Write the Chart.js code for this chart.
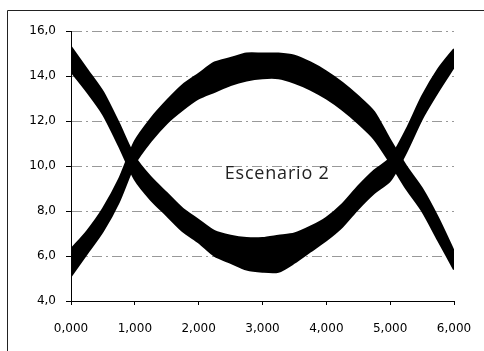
<!DOCTYPE html>
<html>
<head>
<meta charset="utf-8">
<script src="https://cdn.jsdelivr.net/npm/chart.js@4/dist/chart.umd.min.js"></script>
<style>
  html, body { margin: 0; padding: 0; background: #fff; }
  #wrap { width: 484px; height: 351px; position: relative; }
</style>
</head>
<body>
<div id="wrap"><canvas id="chart"></canvas></div>
<script>
// time axis (0,000 .. 6,000)
const xs = [0, 0.25, 0.5, 0.75, 1, 1.25, 1.5, 1.75, 2, 2.25, 2.5, 2.75, 3,
            3.25, 3.5, 3.75, 4, 4.25, 4.5, 4.75, 5, 5.25, 5.5, 5.75, 6];

// series falling then rising (upper / lower edge of the noisy band)
const fallHi = [15.3, 14.3, 13.3, 11.9, 10.4, 9.5, 8.8, 8.1, 7.6, 7.1, 6.9, 6.8, 6.8,
                6.9, 7.0, 7.3, 7.7, 8.3, 9.1, 9.8, 10.35, 11.6, 13.1, 14.3, 15.2];
const fallLo = [14.2, 13.3, 12.3, 10.9, 9.4, 8.5, 7.8, 7.1, 6.6, 6.0, 5.7, 5.4, 5.3,
                5.3, 5.7, 6.2, 6.7, 7.3, 8.1, 8.8, 9.35, 10.6, 12.1, 13.3, 14.4];

// series rising then falling
const riseHi = [6.3, 7.1, 8.1, 9.4, 11.1, 12.1, 12.9, 13.6, 14.1, 14.6, 14.8, 15.0, 15.0,
                15.0, 14.9, 14.6, 14.2, 13.7, 13.1, 12.4, 11.15, 10.0, 9.0, 7.7, 6.2];
const riseLo = [5.1, 6.1, 7.1, 8.4, 10.1, 11.1, 11.9, 12.5, 13.0, 13.3, 13.6, 13.8, 13.9,
                13.9, 13.7, 13.4, 13.0, 12.5, 11.9, 11.2, 10.15, 9.0, 8.0, 6.7, 5.4];

const xTickLabels = ['0,000', '1,000', '2,000', '3,000', '4,000', '5,000', '6,000'];
const yTickLabels = ['4,0', '6,0', '8,0', '10,0', '12,0', '14,0', '16,0'];

const chartTitle = 'Escenario 2';
const titleAt = { x: 3.23, y: 9.64 };

function pts(ys) {
    return xs.map((x, i) => ({ x: x, y: ys[i] }));
}

function band(ys, fill) {
    return {
        data: pts(ys),
        borderColor: '#000',
        backgroundColor: '#000',
        borderWidth: 2,
        pointRadius: 0,
        tension: 0.25,
        fill: fill,
    };
}

const frame = {
    id: 'frame',
    beforeDraw(chart) {
        const ctx = chart.ctx;
        ctx.save();
        ctx.fillStyle = '#fff';
        ctx.fillRect(0, 0, chart.width, chart.height);
        ctx.strokeStyle = '#222';
        ctx.lineWidth = 1;
        ctx.beginPath();
        ctx.moveTo(7.5, chart.height);
        ctx.lineTo(7.5, 10.5);
        ctx.lineTo(chart.width, 10.5);
        ctx.stroke();
        ctx.restore();
    },
    afterDatasetsDraw(chart) {
        const ctx = chart.ctx;
        const px = chart.scales.x.getPixelForValue(titleAt.x);
        const py = chart.scales.y.getPixelForValue(titleAt.y);
        ctx.save();
        ctx.font = '18px "Open Sans"';
        ctx.letterSpacing = '0.8px';
        ctx.fillStyle = '#222';
        ctx.textAlign = 'center';
        ctx.textBaseline = 'middle';
        ctx.fillText(chartTitle, px, py);
        ctx.restore();
    }
};

const tickFont = { family: 'DejaVu Sans', size: 12 };

new Chart(document.getElementById('chart'), {
    type: 'line',
    data: {
        datasets: [
            band(fallLo, false),
            band(fallHi, '-1'),
            band(riseLo, false),
            band(riseHi, '-1'),
        ]
    },
    options: {
        responsive: true,
        maintainAspectRatio: false,
        animation: false,
        layout: { padding: { left: 0, right: 30, top: 31, bottom: 0 } },
        plugins: {
            legend: { display: false },
            tooltip: { enabled: false },
        },
        scales: {
            x: {
                type: 'linear',
                min: 0,
                max: 6,
                ticks: {
                    stepSize: 1,
                    color: '#000',
                    font: tickFont,
                    padding: 17,
                    maxRotation: 0,
                    callback: (v) => xTickLabels[Math.round(v)],
                },
                grid: {
                    drawOnChartArea: false,
                    tickLength: 4,
                    tickColor: '#000',
                },
                border: { color: '#000', width: 1 },
                afterFit: (s) => {
                    s.height = 50;
                    s.paddingLeft = 0;
                    s.paddingRight = 0;
                },
            },
            y: {
                min: 4,
                max: 16,
                ticks: {
                    stepSize: 2,
                    color: '#000',
                    font: tickFont,
                    padding: 10,
                    callback: (v) => yTickLabels[Math.round((v - 4) / 2)],
                },
                grid: {
                    color: '#999',
                    lineWidth: 1,
                    tickLength: 5,
                    tickColor: '#000',
                    tickBorderDash: [],
                },
                border: { color: '#000', width: 1, dash: [10, 4, 2, 4] },
                afterFit: (s) => {
                    s.width = 71;
                    s.paddingTop = 0;
                    s.paddingBottom = 0;
                },
            }
        }
    },
    plugins: [frame]
});
</script>
</body>
</html>
